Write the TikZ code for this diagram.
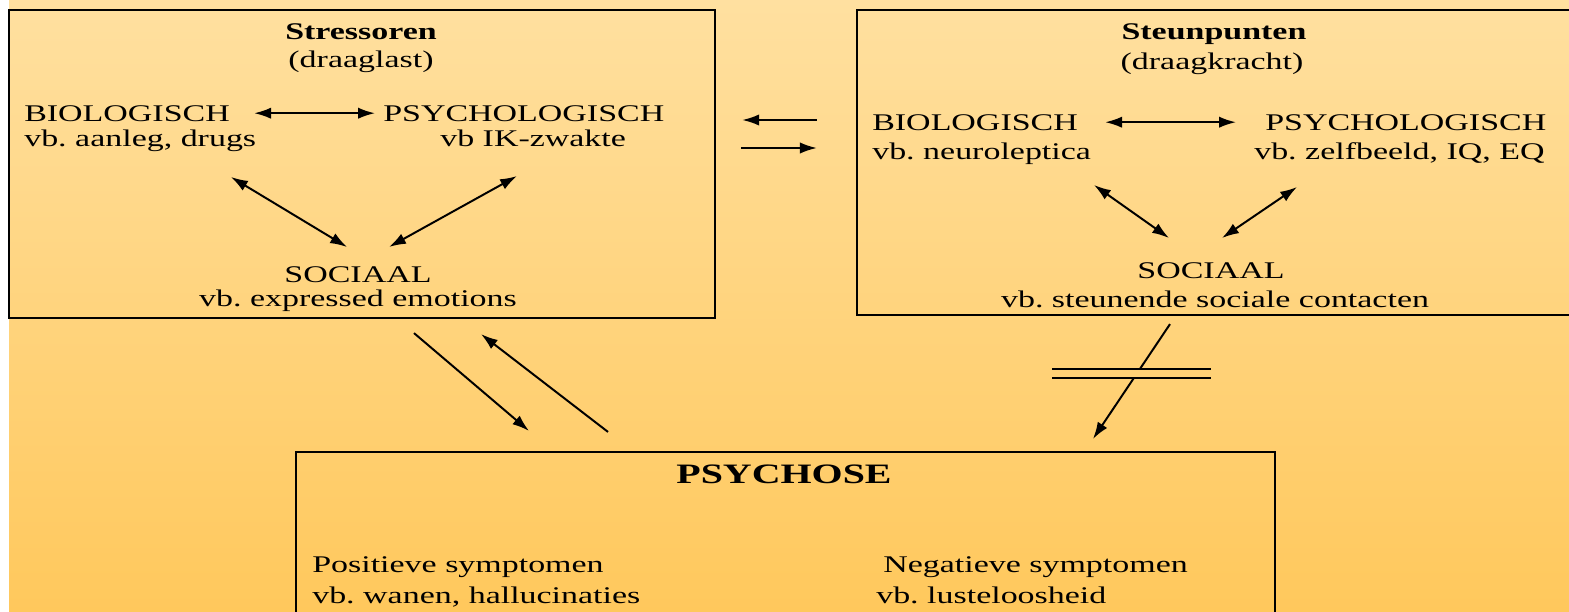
\documentclass[tikz,border=0pt]{standalone}
\usepackage{fontspec}
\setmainfont{Liberation Serif}[FakeStretch=1.42]
\usepackage{tikz}
\usetikzlibrary{arrows.meta, positioning}
\definecolor{bgTop}{RGB}{255,224,160}
\definecolor{bgBot}{RGB}{255,200,92}
\frenchspacing

\begin{document}
\begin{tikzpicture}[x=0.025cm, y=-0.025cm,
    font=\fontsize{17}{17}\selectfont,
    lbl/.style={inner sep=0pt},
    panel/.style={draw, line width=1.5pt, inner sep=0pt},
    link/.style={line width=1.4pt, {Latex[length=12pt,width=8pt]}-{Latex[length=12pt,width=8pt]}},
    flow/.style={line width=1.4pt, -{Latex[length=12pt,width=8pt]}}]
  \useasboundingbox (0,0) rectangle (1569,611);
  \shade[top color=bgTop, bottom color=bgBot] (9,0) rectangle (1569,611);

  \node[panel, minimum width=17.65cm, minimum height=7.7cm] (stBox) at (362,164) {};
  \node[panel, minimum width=17.95cm, minimum height=7.625cm] (spBox) at (1216,162.5) {};
  \node[panel, minimum width=24.475cm, minimum height=4.45cm] (psBox) at (785.5,541) {};

  \node[lbl, anchor=base] (stTitle) at (361,40) {\textbf{Stressoren}};
  \node[lbl, anchor=base] (stSub) at (361,68) {(draaglast)};
  \node[lbl, anchor=base west] (stBio) at (24,121) {BIOLOGISCH};
  \node[lbl, anchor=base west] (stBioEx) at (24,146) {vb. aanleg, drugs};
  \node[lbl, anchor=base west] (stPsy) at (383,121) {PSYCHOLOGISCH};
  \node[lbl, anchor=base west] (stPsyEx) at (440,146) {vb IK-zwakte};
  \node[lbl, anchor=base] (stSoc) at (358,282) {SOCIAAL};
  \node[lbl, anchor=base] (stSocEx) at (358,306) {vb. expressed emotions};

  \node[lbl, anchor=base] (spTitle) at (1214,40) {\textbf{Steunpunten}};
  \node[lbl, anchor=base] (spSub) at (1212,69) {(draagkracht)};
  \node[lbl, anchor=base west] (spBio) at (872,130) {BIOLOGISCH};
  \node[lbl, anchor=base west] (spBioEx) at (872,159) {vb. neuroleptica};
  \node[lbl, anchor=base west] (spPsy) at (1265,130) {PSYCHOLOGISCH};
  \node[lbl, anchor=base west] (spPsyEx) at (1254,159) {vb. zelfbeeld, IQ, EQ};
  \node[lbl, anchor=base] (spSoc) at (1211,278) {SOCIAAL};
  \node[lbl, anchor=base] (spSocEx) at (1215,307) {vb. steunende sociale contacten};

  \node[lbl, anchor=base, font=\fontsize{20}{20}\selectfont\bfseries] (psTitle) at (784,483) {PSYCHOSE};
  \node[lbl, anchor=base west] (psPos) at (312,572) {Positieve symptomen};
  \node[lbl, anchor=base west] (psPosEx) at (312,603) {vb. wanen, hallucinaties};
  \node[lbl, anchor=base west] (psNeg) at (883,572) {Negatieve symptomen};
  \node[lbl, anchor=base west] (psNegEx) at (876,603) {vb. lusteloosheid};

  \draw[link, shorten <=0.6cm, shorten >=0.2cm] (stBio.east) -- (stPsy.west);
  \draw[link] ([shift={(207,31)}]stBioEx.base west) -- ([shift={(-11,-35)}]stSoc.base);
  \draw[link] ([shift={(77,30)}]stPsyEx.base west) -- ([shift={(31,-35)}]stSoc.base);

  \draw[link, shorten <=0.675cm, shorten >=0.725cm] (spBio.east) -- (spPsy.west);
  \draw[link] ([shift={(222,26)}]spBioEx.base west) -- ([shift={(-42,-40)}]spSoc.base);
  \draw[link] ([shift={(43,28)}]spPsyEx.base west) -- ([shift={(11,-40)}]spSoc.base);

  \draw[flow] ([shift={(-39,-42.5)}]spBox.west) -- ([shift={(26,-44)}]stBox.east);
  \draw[flow] ([shift={(25,-16)}]stBox.east) -- ([shift={(-39,-14.5)}]spBox.west);

  \draw[flow] ([shift={(52,14)}]stBox.south) -- ([shift={(-256.5,-20)}]psBox.north);
  \draw[flow] ([shift={(-177.5,-19)}]psBox.north) -- ([shift={(119,15)}]stBox.south);

  \draw[flow] ([shift={(-46,8)}]spBox.south) -- ([shift={(307.5,-12)}]psBox.north);
  \begin{scope}
    \clip (1100,370.5) rectangle (1180,376.5);
    \shade[top color=bgTop, bottom color=bgBot] (9,0) rectangle (1569,611);
  \end{scope}
  \draw[line width=1.2pt] (1052,369) -- (1211,369);
  \draw[line width=1.2pt] (1052,378) -- (1211,378);
\end{tikzpicture}
\end{document}
